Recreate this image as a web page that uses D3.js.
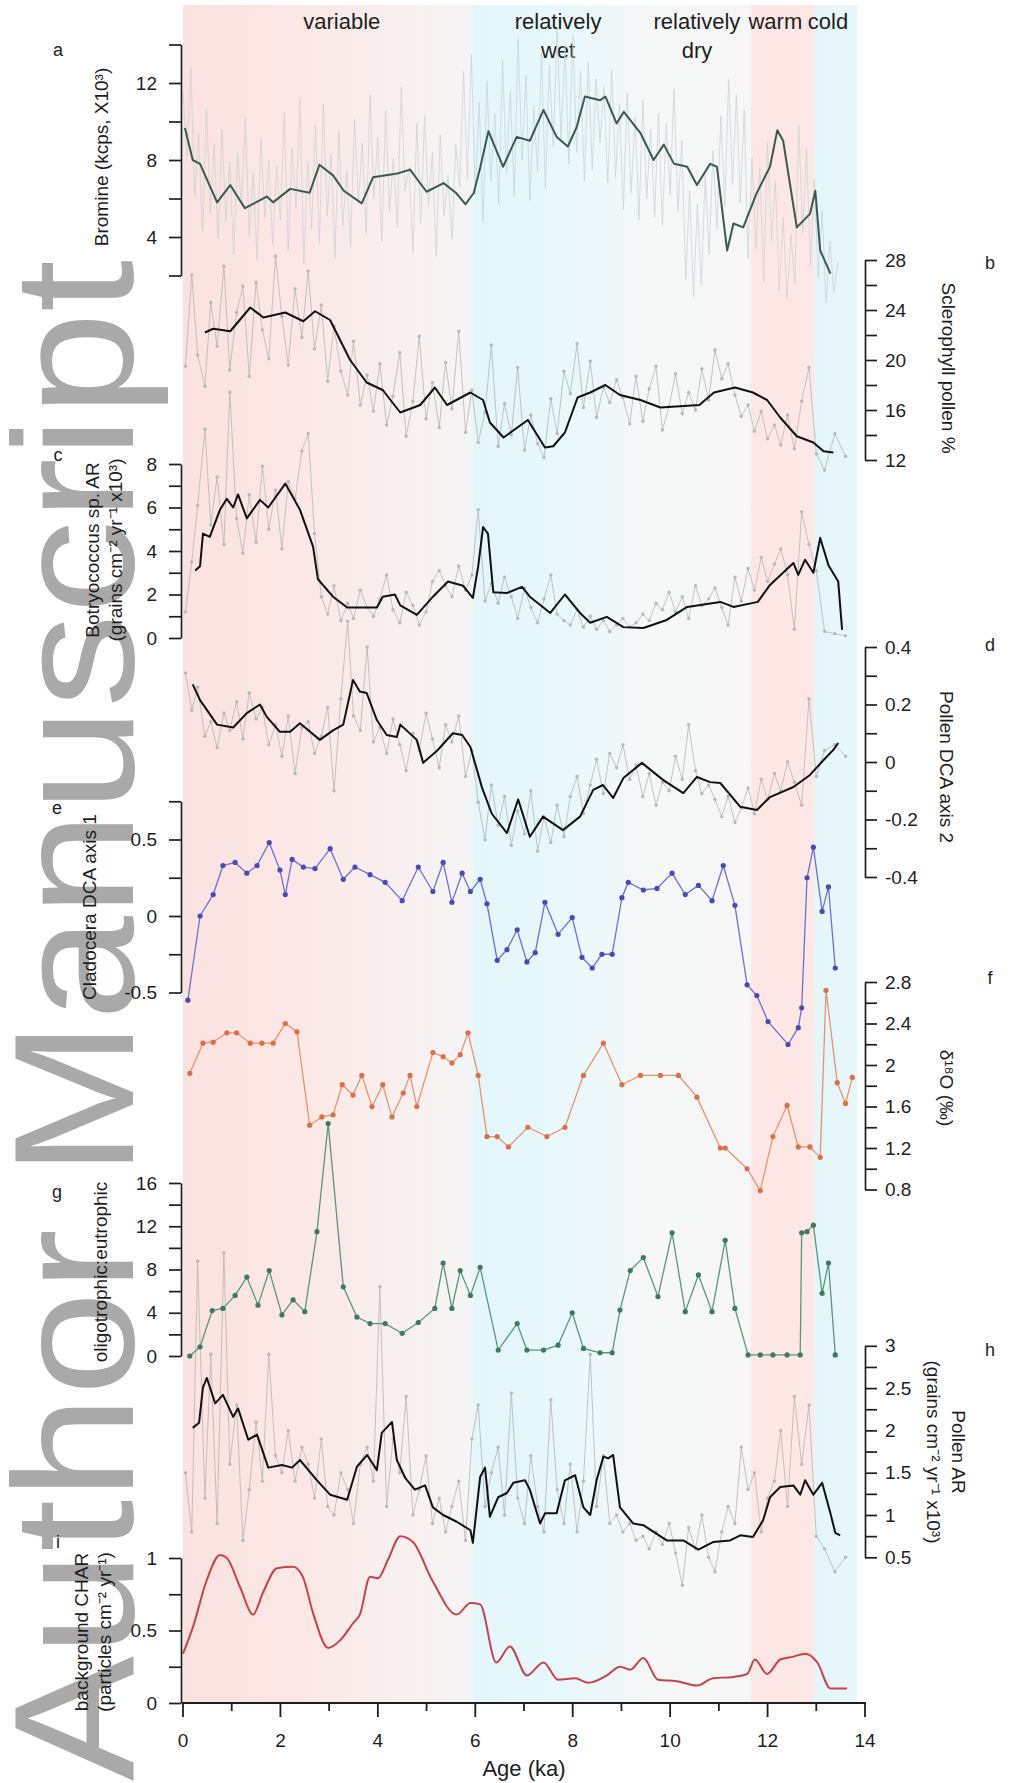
<!DOCTYPE html>
<html>
<head>
<meta charset="utf-8">
<script src="https://cdn.jsdelivr.net/npm/d3@7"></script>
<style>
  body { margin: 0; background: #fff; }
  svg { display: block; }
</style>
</head>
<body>
<svg id="chart" width="1013" height="1783"></svg>
<script>
// ---------------------------------------------------------------
// Data
// ---------------------------------------------------------------

// Climate zones along the age axis (ka)
const zoneNames = [["variable"], ["relatively", "wet"], ["relatively", "dry"], ["warm"], ["cold"]];
const zoneLabelAge = [3.26, 7.7, 10.55, 12.16, 13.24];

// (a) Bromine XRF scan: regular sampling, raw counts (kcps x10^3)
const bromineScanStart = 0;
const bromineScanStep = 0.08;
const bromineRaw = [
  11.5, 8.2, 12.8, 6.1, 9.4, 4.3, 10.7, 5.2, 8.8, 3.9, 9.6, 4.8, 7.9,
  3.1, 8.4, 5.6, 10.2, 4.0, 7.3, 2.8, 9.1, 5.0, 8.0, 3.6, 7.7,
  4.9, 10.5, 3.3, 8.6, 5.5, 11.2, 2.6, 7.9, 4.4, 9.8, 3.7, 10.9,
  5.1, 8.3, 2.9, 9.5, 4.6, 7.4, 3.5, 10.1, 5.8, 8.9, 4.2, 11.4,
  6.0, 9.2, 3.8, 10.6, 5.3, 8.1, 4.5, 11.8, 6.4, 7.6, 3.2, 9.9,
  4.7, 10.3, 5.6, 8.4, 3.0, 9.3, 5.1, 7.2, 3.9, 8.8, 6.6, 12.6,
  7.0, 13.5, 6.2, 11.0, 4.8, 12.1, 6.9, 10.4, 5.7, 13.2, 7.3, 11.6,
  6.1, 14.3, 8.0, 12.4, 5.9, 10.8, 7.4, 13.6, 6.5, 12.9, 8.7, 14.8,
  9.1, 13.9, 7.8, 14.5, 8.4, 12.6, 6.9, 13.1, 7.5, 12.2, 8.9, 11.8,
  6.8, 12.7, 7.1, 10.9, 5.4, 11.5, 6.3, 10.2, 4.9, 11.1, 6.0, 9.6,
  5.0, 10.4, 4.6, 9.9, 6.2, 11.7, 5.3, 9.0, 1.8, 6.4, 0.9, 5.7,
  1.5, 7.2, 3.1, 8.5, 4.4, 10.3, 5.6, 12.2, 6.7, 11.4, 5.8, 10.6,
  2.9, 8.1, 3.4, 7.6, 1.7, 8.9, 3.8, 6.9, 1.2, 5.0, 0.8, 4.1, 1.6,
  9.8, 4.2, 8.6, 2.5, 7.0, 1.9, 5.4, 0.6, 3.8, 1.1, 2.7
];
const bromineSmooth = [
  [0.04,9.66],[0.2,8.0],[0.35,7.8],[0.7,5.8],[0.97,6.7],[1.27,5.5],[1.72,6.1],[1.85,5.8],
  [2.2,6.5],[2.6,6.3],[2.8,7.75],[3.08,7.2],[3.3,6.4],[3.67,5.75],[3.9,7.1],[4.4,7.3],
  [4.66,7.5],[5.0,6.35],[5.35,6.8],[5.6,6.3],[5.8,5.7],[5.97,6.3],[6.1,7.6],[6.27,9.5],
  [6.57,7.65],[6.85,9.2],[7.12,9.0],[7.4,10.6],[7.67,9.2],[7.9,8.7],[8.08,9.7],[8.25,11.3],
  [8.56,11.1],[8.67,11.3],[8.9,9.9],[9.05,10.5],[9.39,9.4],[9.66,8.0],[9.87,8.8],[10.08,7.8],
  [10.35,7.65],[10.55,6.7],[10.82,7.8],[10.96,7.65],[11.17,3.3],[11.3,4.7],[11.5,4.5],
  [11.78,6.3],[12.05,7.65],[12.2,9.55],[12.32,9.0],[12.6,4.5],[12.87,5.2],[12.98,6.4],
  [13.08,3.3],[13.29,2.1]
];

// Pollen / algae sample ages (ka), shared by the raw pollen-based records
const sampleAge = [
  0.05,0.18,0.3,0.45,0.57,0.7,0.84,0.96,1.1,1.23,
  1.36,1.5,1.63,1.76,1.9,2.03,2.16,2.3,2.44,2.57,
  2.7,2.84,2.97,3.1,3.24,3.38,3.5,3.64,3.78,3.91,
  4.04,4.18,4.31,4.45,4.58,4.72,4.85,4.99,5.12,5.26,
  5.39,5.52,5.66,5.8,5.93,6.06,6.2,6.33,6.47,6.6,
  6.74,6.87,7.01,7.14,7.28,7.41,7.55,7.68,7.82,7.95,
  8.09,8.22,8.36,8.49,8.63,8.76,8.9,9.03,9.17,9.3,
  9.44,9.57,9.71,9.84,9.98,10.11,10.25,10.38,10.52,10.65,
  10.79,10.92,11.06,11.19,11.33,11.46,11.6,11.73,11.87,12.0,
  12.14,12.27,12.41,12.55,12.7,12.85,13.0,13.17,13.38,13.6
];

// (b) Sclerophyll pollen %
const sclerophyllRaw = [
  19.5,26.8,20.4,17.9,24.6,21.1,27.5,19.2,23.8,25.9,
  18.7,26.2,22.4,20.1,28.3,23.5,19.6,25.7,21.8,27.1,
  20.9,24.4,18.3,22.7,19.1,17.2,21.5,16.4,18.8,15.9,
  19.7,14.8,17.1,20.6,13.9,16.7,21.9,15.3,18.2,14.6,
  19.8,16.1,22.3,14.2,17.6,13.4,15.8,21.2,13.1,16.5,
  14.0,19.4,12.8,15.6,13.3,12.2,16.9,14.1,19.1,17.3,
  21.3,16.2,19.9,15.4,17.8,16.6,18.4,17.0,14.9,18.7,
  15.1,17.7,19.5,14.4,16.3,18.9,15.7,17.4,16.0,19.3,
  16.8,20.8,18.5,19.7,17.2,15.5,16.4,14.3,15.9,13.7,
  14.8,13.2,15.6,12.9,16.7,19.4,12.5,11.2,14.1,12.3
];
const sclerophyllSmooth = [
  [0.45,22.2],[0.62,22.5],[0.97,22.3],[1.38,24.2],[1.65,23.4],[2.1,23.8],[2.47,23.1],
  [2.71,23.9],[3.02,23.2],[3.43,20.0],[3.77,18.2],[4.1,17.6],[4.46,15.8],[4.87,16.4],
  [5.17,17.8],[5.42,16.4],[5.9,17.4],[6.16,16.8],[6.3,15.0],[6.58,13.8],[7.08,15.2],
  [7.43,13.0],[7.6,13.1],[7.84,14.2],[8.1,17.0],[8.36,17.4],[8.67,18.0],[8.97,17.2],
  [9.39,16.8],[9.8,16.2],[10.6,16.4],[10.9,17.4],[11.33,17.8],[11.7,17.4],[11.99,16.8],
  [12.26,15.4],[12.6,13.9],[12.94,13.4],[13.15,12.7],[13.35,12.6]
];

// (c) Botryococcus sp. accumulation rate
const botryoRaw = [
  1.2,3.5,6.1,9.6,5.2,7.4,4.3,11.3,5.5,3.9,
  6.6,4.4,7.9,5.0,6.8,4.1,7.2,6.4,8.6,9.4,
  4.8,1.9,1.1,2.4,0.8,1.6,0.9,2.2,1.4,1.0,
  1.8,2.9,1.3,0.7,2.1,1.5,0.6,1.2,2.6,3.1,
  2.4,1.9,3.3,2.2,2.9,5.9,1.7,2.5,1.6,2.8,
  1.9,0.9,2.3,1.4,0.7,1.8,2.9,1.1,0.8,0.6,
  1.3,0.5,1.0,0.4,0.8,0.3,0.6,0.9,0.5,0.7,
  1.1,0.8,1.6,1.3,2.1,1.2,1.9,0.9,2.4,1.5,
  1.8,2.3,1.4,0.6,2.8,1.7,3.2,2.2,3.7,2.6,
  3.4,4.1,2.9,0.4,5.8,4.3,3.1,0.3,0.2,0.1
];
const botryoSmooth = [
  [0.25,3.1],[0.35,3.3],[0.41,4.8],[0.55,4.65],[0.76,5.9],[0.9,6.4],[1.03,6.0],[1.13,6.6],
  [1.31,5.5],[1.58,6.35],[1.75,6.0],[2.1,7.1],[2.4,5.9],[2.67,4.2],[2.77,2.7],[3.08,1.9],
  [3.37,1.4],[3.98,1.4],[4.1,1.9],[4.35,2.0],[4.46,1.5],[4.8,1.06],[5.13,1.9],[5.44,2.6],
  [5.75,2.4],[5.95,1.84],[6.06,3.3],[6.16,5.1],[6.26,4.8],[6.37,2.1],[6.65,2.07],[6.96,2.35],
  [7.12,1.9],[7.54,1.15],[7.84,2.0],[8.15,1.15],[8.36,0.7],[8.7,0.97],[9.04,0.5],[9.45,0.46],
  [9.93,0.83],[10.35,1.43],[11.03,1.66],[11.3,1.43],[11.8,1.66],[12.05,2.44],[12.53,3.45],
  [12.63,2.9],[12.77,3.6],[12.94,3.0],[13.08,4.6],[13.25,3.35],[13.45,2.6],[13.53,0.37]
];

// (d) Pollen DCA axis 2
const dcaRaw = [
  0.31,0.18,0.26,0.09,0.14,0.05,0.17,0.11,0.21,0.08,
  0.24,0.15,0.19,0.06,0.13,0.02,0.16,-0.04,0.12,0.14,
  0.03,0.09,0.19,-0.1,0.22,0.49,0.16,0.11,0.40,0.07,
  0.12,0.03,0.15,0.06,-0.03,0.1,0.04,0.17,0.08,-0.02,
  0.13,0.07,0.16,-0.05,0.04,-0.14,-0.27,-0.08,-0.22,-0.12,
  -0.29,-0.17,-0.25,-0.1,-0.31,-0.19,-0.28,-0.15,-0.26,-0.12,
  -0.05,-0.18,-0.08,0.01,-0.11,0.03,-0.02,0.06,-0.06,-0.01,
  -0.12,-0.04,-0.15,-0.07,-0.1,0.02,-0.06,0.13,-0.03,-0.11,
  -0.08,-0.13,-0.19,-0.12,-0.21,-0.16,-0.09,-0.18,-0.06,-0.13,
  -0.04,-0.1,0.0,-0.07,-0.15,0.22,-0.05,0.04,0.06,0.02
];
const dcaSmooth = [
  [0.2,0.27],[0.35,0.215],[0.7,0.13],[1.03,0.12],[1.31,0.17],[1.58,0.2],[1.72,0.157],
  [1.99,0.105],[2.2,0.105],[2.4,0.135],[2.81,0.077],[3.08,0.11],[3.29,0.13],[3.49,0.285],
  [3.63,0.245],[3.77,0.24],[3.98,0.146],[4.18,0.094],[4.39,0.087],[4.46,0.13],[4.8,0.077],
  [4.93,-0.003],[5.22,0.04],[5.54,0.1],[5.73,0.094],[5.9,0.052],[6.14,-0.09],[6.34,-0.18],
  [6.65,-0.247],[6.88,-0.13],[7.12,-0.26],[7.39,-0.19],[7.8,-0.237],[8.15,-0.19],
  [8.42,-0.097],[8.62,-0.08],[8.83,-0.125],[9.04,-0.056],[9.42,-0.003],[9.86,-0.063],
  [10.27,-0.108],[10.55,-0.052],[10.82,-0.07],[11.03,-0.073],[11.44,-0.156],[11.78,-0.167],
  [12.05,-0.122],[12.53,-0.087],[12.87,-0.045],[13.15,0.007],[13.35,0.042],[13.45,0.066]
];

// (e) Cladocera DCA axis 1
const cladocera = [
  [0.1,-0.55],[0.35,0.0],[0.62,0.14],[0.82,0.33],[1.07,0.35],[1.31,0.28],[1.52,0.33],
  [1.77,0.48],[1.99,0.3],[2.1,0.14],[2.24,0.37],[2.47,0.32],[2.71,0.31],[3.02,0.44],
  [3.29,0.24],[3.53,0.32],[3.84,0.27],[4.15,0.22],[4.5,0.1],[4.83,0.32],[5.13,0.16],
  [5.34,0.35],[5.52,0.09],[5.73,0.28],[5.9,0.16],[6.1,0.24],[6.24,0.08],[6.45,-0.29],
  [6.65,-0.22],[6.86,-0.09],[7.06,-0.3],[7.23,-0.24],[7.43,0.09],[7.7,-0.12],[7.99,-0.01],
  [8.19,-0.27],[8.4,-0.34],[8.6,-0.25],[8.81,-0.25],[9.01,0.12],[9.14,0.22],[9.45,0.17],
  [9.73,0.18],[10.04,0.28],[10.31,0.14],[10.58,0.2],[10.86,0.1],[11.09,0.33],[11.33,0.07],
  [11.58,-0.45],[11.78,-0.52],[12.01,-0.69],[12.42,-0.84],[12.63,-0.73],[12.7,-0.6],
  [12.81,0.25],[12.94,0.45],[13.12,0.03],[13.25,0.19],[13.39,-0.34]
];

// (f) Chironomid-inferred d18O (per mil)
const d18O = [
  [0.14,1.92],[0.41,2.21],[0.62,2.22],[0.9,2.31],[1.1,2.31],[1.38,2.21],[1.62,2.21],
  [1.85,2.21],[2.1,2.4],[2.34,2.32],[2.6,1.42],[2.85,1.5],[3.08,1.52],[3.27,1.81],
  [3.49,1.71],[3.67,1.9],[3.88,1.6],[4.1,1.81],[4.29,1.5],[4.52,1.73],[4.66,1.9],[4.8,1.6],
  [5.13,2.12],[5.34,2.08],[5.52,2.02],[5.69,2.1],[5.85,2.31],[6.06,1.9],[6.24,1.31],
  [6.45,1.31],[6.68,1.21],[7.08,1.4],[7.47,1.31],[7.84,1.4],[8.22,1.9],[8.63,2.21],
  [9.01,1.81],[9.39,1.9],[9.8,1.9],[10.17,1.9],[10.55,1.69],[11.03,1.2],[11.13,1.2],
  [11.58,1.0],[11.85,0.79],[12.11,1.31],[12.4,1.61],[12.63,1.21],[12.87,1.21],[13.08,1.11],
  [13.2,2.72],[13.43,1.83],[13.6,1.63],[13.74,1.88]
];

// (g) Oligotrophic : eutrophic diatom ratio
const oligoEutro = [
  [0.14,0],[0.35,0.85],[0.6,4.2],[0.82,4.4],[1.07,5.6],[1.31,7.3],[1.54,4.7],[1.77,7.9],
  [2.03,3.8],[2.26,5.2],[2.5,4.1],[2.75,11.5],[2.98,21.5],[3.29,6.4],[3.57,3.6],[3.84,3.0],
  [4.15,3.0],[4.5,2.1],[4.83,3.1],[5.17,4.4],[5.34,8.6],[5.52,4.4],[5.69,7.9],[5.9,5.6],
  [6.1,8.2],[6.47,0.55],[6.86,3.0],[7.06,0.55],[7.4,0.55],[7.7,1.0],[7.99,4.0],[8.22,0.7],
  [8.56,0.3],[8.81,0.3],[8.97,4.25],[9.18,7.9],[9.45,9.1],[9.75,5.5],[10.04,11.4],
  [10.31,4.1],[10.58,7.5],[10.86,4.1],[11.13,10.7],[11.33,4.4],[11.6,0.1],[11.85,0.1],
  [12.11,0.1],[12.4,0.1],[12.67,0.1],[12.7,11.4],[12.81,11.5],[12.94,12.1],[13.12,5.8],
  [13.25,8.6],[13.39,0.1]
];

// (h) Pollen accumulation rate (grains cm-2 yr-1 x10^3)
const pollenARRaw = [
  1.5,0.8,4.0,1.2,2.9,0.9,4.1,1.6,2.3,0.7,
  1.3,2.1,1.4,2.9,1.7,1.5,2.0,1.4,1.8,1.6,
  1.2,1.9,1.1,1.0,1.5,1.3,0.9,1.6,1.8,1.4,
  3.7,1.1,1.9,1.5,2.4,1.0,1.3,1.7,0.9,1.2,
  0.8,1.1,1.4,0.7,1.9,2.3,1.1,1.5,1.8,1.0,
  2.44,1.2,0.9,1.7,1.1,0.8,2.36,1.3,0.9,1.6,
  0.8,1.4,2.9,1.1,1.7,0.9,1.0,0.8,0.9,0.7,
  0.75,0.6,0.8,0.65,0.9,0.55,0.17,0.85,0.6,1.0,
  0.5,0.33,0.8,1.1,0.9,1.8,1.3,1.5,0.8,1.2,
  1.4,2.0,1.1,2.4,1.6,2.3,0.75,0.6,0.33,0.5
];
const pollenARSmooth = [
  [0.2,2.03],[0.33,2.09],[0.41,2.51],[0.49,2.62],[0.66,2.32],[0.82,2.42],[1.03,2.16],
  [1.13,2.26],[1.34,1.89],[1.52,1.95],[1.75,1.56],[2.03,1.59],[2.24,1.56],[2.4,1.65],
  [2.75,1.41],[3.02,1.24],[3.37,1.18],[3.57,1.57],[3.78,1.71],[3.98,1.53],[4.08,1.97],
  [4.29,2.1],[4.39,1.65],[4.56,1.44],[4.76,1.3],[4.97,1.35],[5.13,1.09],[5.34,1.0],
  [5.62,0.92],[5.9,0.82],[5.95,0.67],[6.1,1.45],[6.2,1.56],[6.3,0.98],[6.47,1.21],
  [6.65,1.26],[6.78,1.38],[7.02,1.41],[7.12,1.3],[7.33,0.9],[7.43,1.02],[7.67,1.02],
  [7.84,1.41],[8.05,1.47],[8.22,1.09],[8.36,1.0],[8.49,1.41],[8.63,1.69],[8.73,1.67],
  [8.83,1.71],[8.97,1.09],[9.24,0.9],[9.45,0.88],[9.93,0.7],[10.27,0.7],[10.58,0.59],
  [10.88,0.68],[11.23,0.7],[11.44,0.76],[11.7,0.74],[11.91,0.94],[12.05,1.21],[12.26,1.33],
  [12.53,1.35],[12.67,1.24],[12.77,1.41],[12.94,1.24],[13.12,1.38],[13.29,1.02],
  [13.39,0.79],[13.49,0.76]
];

// (i) Background charcoal accumulation rate (particles cm-2 yr-1)
const charBackground = [
  [0,0.34],[0.2,0.52],[0.49,0.85],[0.76,1.02],[0.9,1.0],[1.17,0.8],[1.44,0.61],[1.64,0.76],
  [1.93,0.93],[2.26,0.94],[2.46,0.87],[2.67,0.62],[2.98,0.38],[3.22,0.43],[3.49,0.55],
  [3.63,0.61],[3.84,0.87],[4.0,0.86],[4.21,0.99],[4.46,1.15],[4.72,1.11],[5.11,0.85],
  [5.62,0.61],[5.9,0.69],[6.1,0.68],[6.43,0.28],[6.71,0.39],[7.06,0.19],[7.4,0.28],
  [7.7,0.16],[8.05,0.17],[8.32,0.14],[8.7,0.19],[8.97,0.25],[9.18,0.23],[9.45,0.31],
  [9.75,0.16],[10.14,0.15],[10.55,0.12],[10.88,0.17],[11.3,0.18],[11.58,0.2],[11.74,0.3],
  [11.99,0.2],[12.26,0.3],[12.53,0.32],[12.77,0.34],[13.02,0.28],[13.29,0.1],[13.63,0.1]
];

// Axis ticks
const ageTicks = [0,1,2,3,4,5,6,7,8,9,10,11,12,13,14];
const ageLabels = [0,2,4,6,8,10,12,14];
const bromineTicks = [2,4,6,8,10,12,14], bromineLabels = [4,8,12];
const scleroTicks = [12,14,16,18,20,22,24,26,28], scleroLabels = [12,16,20,24,28];
const botryoTicks = [0,1,2,3,4,5,6,7,8], botryoLabels = [0,2,4,6,8];
const dcaTicks = [-0.4,-0.3,-0.2,-0.1,0,0.1,0.2,0.3,0.4], dcaLabels = [-0.4,-0.2,0,0.2,0.4];
const cladoTicks = [-0.5,-0.25,0,0.25,0.5,0.75], cladoLabels = [-0.5,0,0.5];
const d18OTicks = [0.8,1,1.2,1.4,1.6,1.8,2,2.2,2.4,2.6,2.8], d18OLabels = [0.8,1.2,1.6,2,2.4,2.8];
const oligoTicks = [0,2,4,6,8,10,12,14,16], oligoLabels = [0,4,8,12,16];
const arTicks = [0.5,0.75,1,1.25,1.5,1.75,2,2.25,2.5,2.75,3], arLabels = [0.5,1,1.5,2,2.5,3];
const charTicks = [0,0.25,0.5,0.75,1], charLabels = [0,0.5,1];

// ---------------------------------------------------------------
// Drawing
// ---------------------------------------------------------------
const FONT = '"Liberation Sans", Arial, Helvetica, sans-serif';
const INK = "#1e1e1e";
const svg = d3.select("#chart").attr("font-family", FONT);

const x = d3.scaleLinear().domain([0, 14]).range([183, 865]);
const baseY = 1703;

// One vertical scale per record
const yBr = d3.scaleLinear().domain([2, 14]).range([275.5, 44.5]);
const ySc = d3.scaleLinear().domain([12, 28]).range([460, 260]);
const yBo = d3.scaleLinear().domain([0, 8]).range([638, 464]);
const yDca = d3.scaleLinear().domain([-0.4, 0.4]).range([877, 647]);
const yCl = d3.scaleLinear().domain([-0.5, 0.75]).range([992.5, 801.25]);
const yO = d3.scaleLinear().domain([0.8, 2.8]).range([1189.5, 982]);
const yOl = d3.scaleLinear().domain([0, 16]).range([1356, 1183]);
const yAR = d3.scaleLinear().domain([0.5, 3]).range([1557.3, 1345.8]);
const yCh = d3.scaleLinear().domain([0, 1]).range([1703, 1558]);

// Zone shading behind all records
const zoneShade = [
  [0, "#fae2df"], [2.5, "#fbe8e6"], [4.5, "#f8f0ef"], [5.95, "#f5f5f5"],
  [5.96, "#e3f6fb"], [7.8, "#e8f8fb"], [9.6, "#f6f7f7"], [11.66, "#f6f6f6"],
  [11.67, "#fde7e4"], [12.95, "#fde8e5"], [12.96, "#e4f6fa"], [13.84, "#e8f7fa"]
];
const defs = svg.append("defs");
const grad = defs.append("linearGradient").attr("id", "zones")
  .attr("gradientUnits", "userSpaceOnUse")
  .attr("x1", x(0)).attr("x2", x(13.84)).attr("y1", 0).attr("y2", 0);
zoneShade.forEach(([a, c]) => grad.append("stop").attr("offset", a / 13.84).attr("stop-color", c));
svg.append("rect")
  .attr("x", x(0)).attr("y", 5)
  .attr("width", x(13.84) - x(0)).attr("height", baseY - 5)
  .attr("fill", "url(#zones)");

// Zone names along the top
zoneNames.forEach((lines, i) => {
  const t = svg.append("text").attr("text-anchor", "middle")
    .attr("font-size", 22).attr("fill", INK);
  lines.forEach((s, j) => t.append("tspan").attr("x", x(zoneLabelAge[i])).attr("y", 29 + j * 29).text(s));
});

// "Author Manuscript" banner on the left margin
svg.append("text")
  .attr("transform", "translate(133,1781) rotate(-90)")
  .attr("font-size", 170).attr("fill", "#a9a9a9")
  .attr("textLength", 1521).attr("lengthAdjust", "spacingAndGlyphs")
  .text("Author Manuscript");

// Helpers
const lineGen = (ys, curve) => d3.line().x(d => x(d[0])).y(d => ys(d[1])).curve(curve || d3.curveLinear);

function rawSeries(ages, vals, ys, color, dots, opacity) {
  const pts = d3.zip(ages, vals);
  svg.append("path").datum(pts).attr("d", lineGen(ys))
    .attr("fill", "none").attr("stroke", color).attr("stroke-width", 1)
    .attr("stroke-opacity", opacity);
  if (dots) {
    svg.append("g").selectAll("circle").data(pts).join("circle")
      .attr("cx", d => x(d[0])).attr("cy", d => ys(d[1])).attr("r", 1.7)
      .attr("fill", color);
  }
}
function smoothLine(pts, ys, color, w, curve) {
  svg.append("path").datum(pts).attr("d", lineGen(ys, curve))
    .attr("fill", "none").attr("stroke", color).attr("stroke-width", w)
    .attr("stroke-linejoin", "round");
}
function markedLine(pts, ys, lineColor, dotColor) {
  svg.append("path").datum(pts).attr("d", lineGen(ys))
    .attr("fill", "none").attr("stroke", lineColor).attr("stroke-width", 1.3);
  svg.append("g").selectAll("circle").data(pts).join("circle")
    .attr("cx", d => x(d[0])).attr("cy", d => ys(d[1])).attr("r", 2.6)
    .attr("fill", dotColor);
}

// Raw records (grey)
const bromineAge = bromineRaw.map((_, i) => bromineScanStart + i * bromineScanStep);
rawSeries(bromineAge, bromineRaw, yBr, "#c6d0d4", false, 0.7);
rawSeries(sampleAge, sclerophyllRaw, ySc, "#b8b8b8", true, 0.85);
rawSeries(sampleAge, botryoRaw, yBo, "#b8b8b8", true, 0.85);
rawSeries(sampleAge, dcaRaw, yDca, "#b8b8b8", true, 0.85);
rawSeries(sampleAge, pollenARRaw, yAR, "#b8b8b8", true, 0.85);

// Smoothed records
smoothLine(bromineSmooth, yBr, "#3a5a50", 2);
smoothLine(sclerophyllSmooth, ySc, "#111", 2);
smoothLine(botryoSmooth, yBo, "#111", 2);
smoothLine(dcaSmooth, yDca, "#111", 2);
smoothLine(pollenARSmooth, yAR, "#111", 2);
smoothLine(charBackground, yCh, "#c8424e", 2, d3.curveMonotoneX);

// Sample-by-sample records with markers
markedLine(cladocera, yCl, "#6e6ed6", "#4a4ab4");
markedLine(d18O, yO, "#e8926f", "#d9704c");
markedLine(oligoEutro, yOl, "#5a9679", "#3f7a60");

// Axes
const fmt = d => String(+d.toFixed(2));
function yAxis(scale, side, ticks, labels) {
  const left = side === "left";
  const ax = (left ? d3.axisLeft(scale) : d3.axisRight(scale))
    .tickValues(ticks).tickSize(12).tickSizeOuter(0).tickPadding(left ? 12 : 8)
    .tickFormat(d => labels.some(v => Math.abs(v - d) < 1e-9) ? fmt(d) : "");
  const g = svg.append("g").attr("transform", `translate(${left ? 181 : 865},0)`).call(ax);
  g.attr("font-family", FONT).attr("font-size", 19);
  g.select(".domain").attr("stroke", INK).attr("stroke-width", 1.7);
  g.selectAll(".tick line").attr("stroke", INK).attr("stroke-width", 1.7);
  g.selectAll(".tick text").attr("fill", INK);
}
yAxis(yBr, "left", bromineTicks, bromineLabels);
yAxis(ySc, "right", scleroTicks, scleroLabels);
yAxis(yBo, "left", botryoTicks, botryoLabels);
yAxis(yDca, "right", dcaTicks, dcaLabels);
yAxis(yCl, "left", cladoTicks, cladoLabels);
yAxis(yO, "right", d18OTicks, d18OLabels);
yAxis(yOl, "left", oligoTicks, oligoLabels);
yAxis(yAR, "right", arTicks, arLabels);
yAxis(yCh, "left", charTicks, charLabels);

// Age axis
const xg = svg.append("g");
xg.append("line").attr("x1", x(0) - 1).attr("x2", x(14) + 1)
  .attr("y1", baseY).attr("y2", baseY).attr("stroke", INK).attr("stroke-width", 2);
xg.selectAll("line.tk").data(ageTicks).join("line").attr("class", "tk")
  .attr("x1", d => x(d)).attr("x2", d => x(d))
  .attr("y1", baseY).attr("y2", d => baseY + (ageLabels.includes(d) ? 14 : 8))
  .attr("stroke", INK).attr("stroke-width", 1.8);
xg.selectAll("text").data(ageLabels).join("text")
  .attr("x", d => x(d)).attr("y", baseY + 44).attr("text-anchor", "middle")
  .attr("font-size", 19).attr("fill", INK).text(d => d);
svg.append("text").attr("x", x(7)).attr("y", 1776).attr("text-anchor", "middle")
  .attr("font-size", 22).attr("fill", INK).text("Age (ka)");

// Axis titles
function vTitle(xPos, yMid, angle, lines, gap) {
  const t = svg.append("text")
    .attr("transform", `translate(${xPos},${yMid}) rotate(${angle})`)
    .attr("text-anchor", "middle").attr("font-size", 19).attr("fill", INK);
  lines.forEach((s, i) => t.append("tspan").attr("x", 0).attr("y", i * gap).text(s));
}
vTitle(108, 157, -90, ["Bromine (kcps, X10³)"], 0);
vTitle(99, 550, -90, ["Botryococcus sp. AR", "(grains cm⁻² yr⁻¹ x10³)"], 23);
vTitle(96, 907, -90, ["Cladocera DCA axis 1"], 0);
vTitle(107, 1272, -90, ["oligotrophic:eutrophic"], 0);
vTitle(88, 1632, -90, ["background CHAR", "(particles cm⁻² yr⁻¹)"], 23);
vTitle(942, 368, 90, ["Sclerophyll pollen %"], 0);
vTitle(940, 767, 90, ["Pollen DCA axis 2"], 0);
vTitle(940, 1088, 90, ["δ¹⁸O (‰)"], 0);
vTitle(952, 1452, 90, ["Pollen AR", "(grains cm⁻² yr⁻¹ x10³)"], 25);

// Panel letters
const panelLetters = [
  ["a", 58, 50], ["b", 990, 263], ["c", 58, 455], ["d", 990, 645], ["e", 57, 808],
  ["f", 990, 978], ["g", 57, 1192], ["h", 990, 1350], ["i", 58, 1542]
];
svg.append("g").selectAll("text").data(panelLetters).join("text")
  .attr("x", d => d[1]).attr("y", d => d[2]).attr("text-anchor", "middle")
  .attr("dominant-baseline", "central").attr("font-size", 18).attr("fill", INK)
  .text(d => d[0]);
</script>
</body>
</html>
